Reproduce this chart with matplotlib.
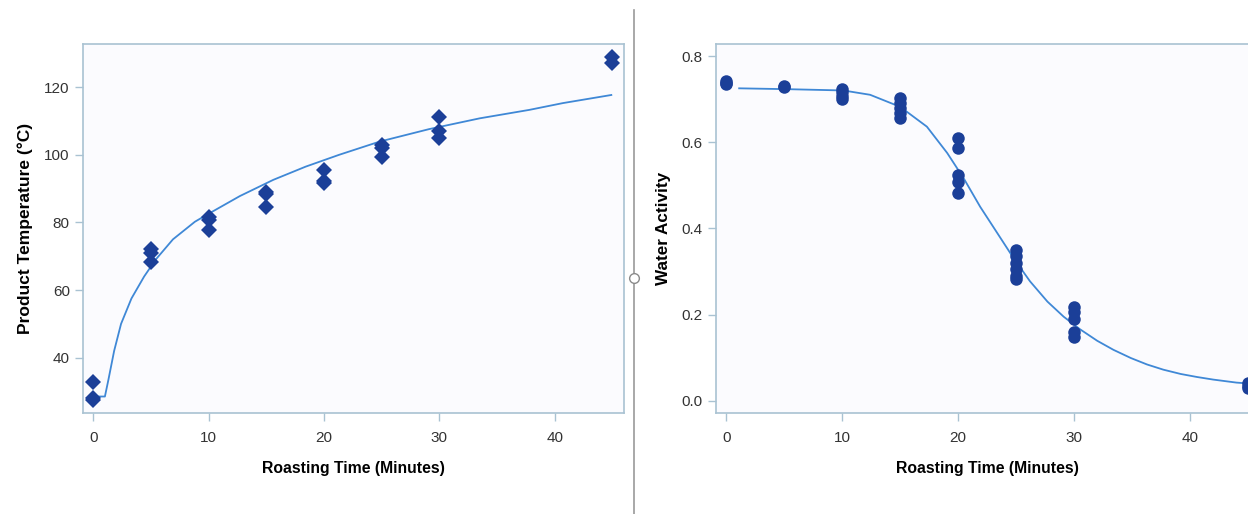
import numpy as np
import matplotlib.pyplot as plt
from matplotlib.lines import Line2D

plt.rcParams['font.family'] = ['Liberation Sans', 'DejaVu Sans']

# Product temperature measurements (diamonds)
temp_time = [0, 0, 0, 5, 5, 5, 10, 10, 10, 15, 15, 15, 20, 20, 20,
             25, 25, 25, 30, 30, 30, 45, 45]
temp_vals = [32.9, 28.0, 27.5, 72.0, 71.0, 68.4, 81.7, 80.8, 77.8,
             89.1, 88.3, 84.7, 95.5, 92.3, 91.6, 102.9, 102.0, 99.5,
             111.3, 106.9, 104.9, 129.0, 127.1]

# fitted temperature curve
temp_fit_t = [0.35, 1.0, 1.3, 1.8, 2.4, 3.3, 4.4, 5.4, 6.9, 8.8, 9.8,
              12.7, 15.6, 18.4, 21.3, 24.8, 29.1, 33.5, 37.8, 40.7, 44.9]
temp_fit_v = [28.5, 28.5, 33.4, 42.0, 50.0, 57.5, 64.0, 69.0, 75.0, 80.2,
              82.2, 87.8, 92.6, 96.5, 100.0, 103.9, 107.6, 110.8, 113.3,
              115.3, 117.7]

# Water activity measurements (circles)
aw_time = [0, 0, 0, 5, 5, 10, 10, 10, 10, 15, 15, 15, 15, 15,
           20, 20, 20, 20, 20, 25, 25, 25, 25, 25, 25,
           30, 30, 30, 30, 30, 45, 45, 45]
aw_vals = [0.742, 0.738, 0.734, 0.731, 0.727, 0.723, 0.716, 0.708, 0.701,
           0.702, 0.690, 0.680, 0.668, 0.655,
           0.609, 0.586, 0.524, 0.508, 0.481,
           0.350, 0.335, 0.320, 0.305, 0.290, 0.282,
           0.218, 0.205, 0.190, 0.160, 0.147, 0.040, 0.035, 0.030]

# fitted water activity curve
aw_fit_t = [1.1, 5.3, 10.1, 12.4, 15.0, 17.3, 19.05, 20.5, 21.9, 23.4,
            24.8, 26.2, 27.7, 29.1, 30.5, 32.0, 33.4, 34.9, 36.3, 37.7,
            39.2, 40.6, 42.0, 44.0, 45.0]
aw_fit_v = [0.725, 0.723, 0.720, 0.710, 0.682, 0.636, 0.575, 0.515, 0.450,
            0.388, 0.330, 0.277, 0.230, 0.195, 0.166, 0.139, 0.118, 0.099,
            0.084, 0.072, 0.062, 0.055, 0.049, 0.042, 0.040]

x_ticks = [0, 10, 20, 30, 40]
temp_ticks = [40, 60, 80, 100, 120]
aw_ticks = [0.0, 0.2, 0.4, 0.6, 0.8]

marker_col = '#1b3f98'
line_col = '#3f88d6'
frame_col = '#a9c2d2'
face_col = '#fbfbfe'

fig = plt.figure(figsize=(12.48, 5.14), dpi=100)
ax1 = fig.add_axes([0.0665, 0.197, 0.4335, 0.7175])
ax2 = fig.add_axes([0.5737, 0.197, 0.4355, 0.7175])


def style(ax):
    ax.set_facecolor(face_col)
    for s in ax.spines.values():
        s.set_color(frame_col)
        s.set_linewidth(1.2)
    ax.tick_params(colors=frame_col, labelcolor='#333333', labelsize=11,
                   length=6, width=1)
    ax.tick_params(axis='x', pad=7)
    ax.set_xticks(x_ticks)
    ax.set_xlim(-0.9, 46.0)
    ax.set_xlabel('Roasting Time (Minutes)', fontsize=11.3,
                  fontweight='bold', labelpad=12)


# left panel
ax1.plot(temp_fit_t, temp_fit_v, color=line_col, lw=1.3, zorder=2,
         solid_joinstyle='round')
ax1.plot(temp_time, temp_vals, 'D', color=marker_col, ms=8.5, mew=0, zorder=3)
style(ax1)
ax1.set_ylim(23.7, 132.8)
ax1.set_yticks(temp_ticks)
ax1.set_ylabel('Product Temperature (°C)', fontsize=12.5,
               fontweight='bold', labelpad=8)

# right panel
ax2.plot(aw_fit_t, aw_fit_v, color=line_col, lw=1.3, zorder=2,
         solid_joinstyle='round')
ax2.plot(aw_time, aw_vals, 'o', color=marker_col, ms=9, mew=0, zorder=3)
style(ax2)
ax2.set_ylim(-0.028, 0.828)
ax2.set_yticks(aw_ticks)
ax2.set_yticklabels(['0.0', '0.2', '0.4', '0.6', '0.8'])
ax2.set_ylabel('Water Activity', fontsize=12.3, fontweight='bold',
               labelpad=8)

# divider between the two panels
fig.add_artist(Line2D([0.508, 0.508], [0.0, 0.98], color='#9a9a9a',
                      lw=1.2, transform=fig.transFigure))
fig.add_artist(Line2D([0.508], [0.459], marker='o', ms=7, mfc='white',
                      mec='#8a8a8a', mew=1, transform=fig.transFigure))

fig.savefig('out.png', dpi=100, facecolor='white')
